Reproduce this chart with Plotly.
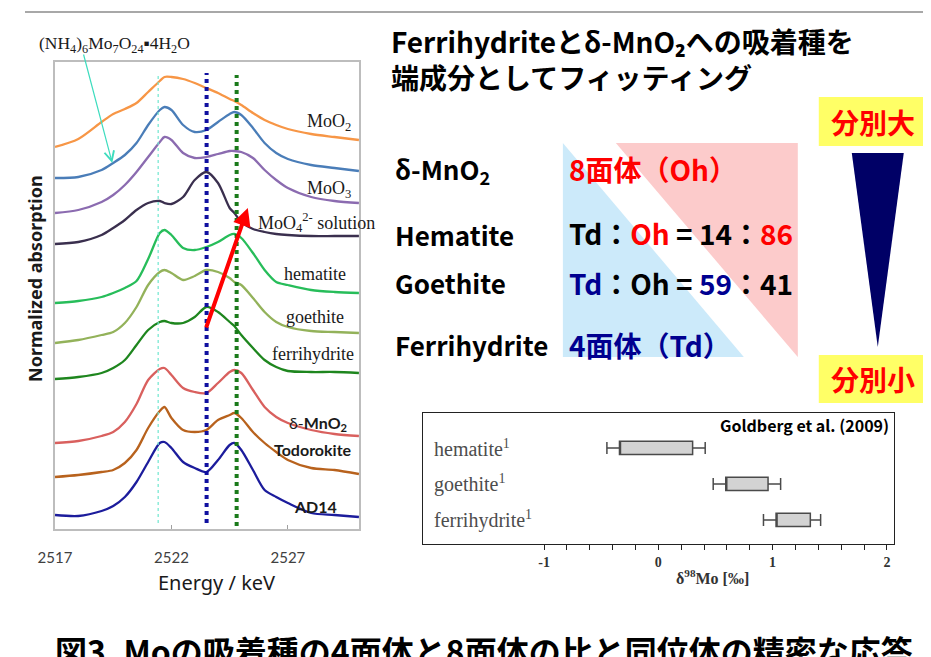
import plotly.graph_objects as go

W, H = 931, 657

# ---------------- XANES spectra (Mo K-edge), offset normalized absorption ----------------
energy = [2517, 2518, 2519, 2519.5, 2520, 2520.5, 2521, 2521.5, 2521.7, 2522, 2522.5, 2523,
          2523.5, 2524, 2524.5, 2524.7, 2525, 2525.5, 2526, 2526.5, 2527, 2528, 2529, 2530.05]

heptamolybdate = [38.2, 39.0, 40.7, 41.5, 42.0, 42.6, 43.7, 44.8, 45.2, 45.2, 45.0, 44.6,
                  44.1, 43.6, 43.0, 42.8, 42.4, 41.6, 40.9, 40.4, 40.0, 39.5, 39.2, 38.9]
moo2 = [35.1, 35.2, 35.9, 36.6, 37.4, 38.6, 40.4, 41.9, 42.2, 41.9, 40.4, 39.7,
        39.9, 40.7, 41.5, 41.7, 41.4, 40.1, 38.6, 37.6, 37.0, 36.4, 36.1, 35.8]
moo3 = [31.6, 31.9, 32.7, 33.4, 34.4, 35.7, 37.2, 38.7, 39.2, 38.9, 37.6, 37.1,
        37.2, 37.5, 37.8, 37.8, 37.7, 37.1, 35.9, 34.9, 34.1, 33.2, 32.8, 32.6]
moo4_solution = [28.5, 28.7, 29.4, 30.1, 30.9, 31.9, 32.6, 32.8, 32.6, 32.5, 33.2, 34.9,
                 35.7, 34.6, 32.1, 31.6, 30.7, 30.0, 29.7, 29.5, 29.4, 29.3, 29.3, 29.3]
hematite = [22.6, 22.8, 23.2, 23.6, 24.1, 24.8, 27.0, 29.6, 29.9, 29.4, 28.1, 27.9,
            28.2, 28.7, 29.4, 29.5, 29.1, 27.6, 25.9, 24.7, 24.4, 23.9, 23.7, 23.6]
goethite = [18.6, 18.9, 19.4, 19.7, 20.6, 22.2, 24.4, 25.7, 25.9, 25.6, 24.9, 25.3,
            25.9, 25.7, 25.1, 24.7, 24.4, 23.1, 21.7, 20.7, 20.2, 19.8, 19.7, 19.6]
ferrihydrite = [15.0, 15.2, 15.6, 16.1, 16.9, 18.4, 19.9, 20.7, 20.8, 20.6, 20.6, 21.2,
                22.2, 21.7, 20.7, 20.3, 19.4, 18.1, 16.9, 16.2, 15.8, 15.7, 15.7, 15.6]
d_mno2 = [8.6, 8.8, 9.3, 9.7, 10.7, 12.5, 14.9, 16.0, 16.1, 15.4, 14.1, 13.7,
          13.6, 14.6, 15.7, 15.9, 15.6, 13.9, 12.2, 11.2, 10.6, 9.9, 9.5, 9.3]
todorokite = [5.2, 5.4, 5.7, 5.9, 6.6, 7.9, 10.1, 11.8, 12.2, 11.1, 9.9, 9.7,
              9.9, 10.9, 11.4, 11.6, 11.1, 9.7, 8.6, 7.7, 6.9, 6.1, 5.9, 5.5]
ad14 = [1.4, 1.3, 1.8, 2.3, 3.2, 4.7, 6.7, 8.6, 8.7, 8.1, 6.7, 6.1,
        5.7, 6.9, 8.4, 8.6, 7.9, 5.9, 3.9, 3.2, 2.6, 1.6, 1.4, 1.2]

xanes_ticks = [2517, 2522, 2527]
ref_energies = [2521.43, 2523.51, 2524.80]
ref_top = [45.6, 45.6, 45.4]
ref_bottom = [0.6, 0.6, 0.3]
shift_arrow_from = [2523.47, 20.0]
shift_arrow_to = [2525.28, 32.1]
hepta_arrow_from = [2518.21, 47.6]
hepta_arrow_to = [2519.46, 36.6]

# ---------------- δ98Mo isotope fractionation (Goldberg et al. 2009) ----------------
iso_minerals = ["hematite", "goethite", "ferrihydrite"]
iso_pos = [3, 2, 1]
iso_q1 = [-0.34, 0.59, 1.03]
iso_q3 = [0.30, 0.96, 1.33]
iso_low = [-0.45, 0.48, 0.92]
iso_high = [0.41, 1.07, 1.42]
iso_tick_labels = ["-1", "0", "1", "2"]

# ---------------- helpers (layout only) ----------------
# the captured page shows the figure shifted/scaled slightly; place items in
# the reference picture's pixel frame and convert to paper coordinates.
RX0, RXS, RY0 = 25.0, 0.982, 8.0

def px(x):
    return ((x - RX0) / RXS) / W

def py(y):
    return 1 - (y - RY0) / H

SERIF = "Liberation Serif, DejaVu Serif, serif"
SANS = "Lato, Noto Sans, sans-serif"
NOTO = "Noto Sans, sans-serif"
JP = "Noto Sans CJK JP, Noto Sans, sans-serif"

fig = go.Figure()

series = [
    (heptamolybdate, "#F79646"),
    (moo2, "#4A7DB8"),
    (moo3, "#8B6BB0"),
    (moo4_solution, "#3A2F4E"),
    (hematite, "#27BD5A"),
    (goethite, "#93B25A"),
    (ferrihydrite, "#1E861E"),
    (d_mno2, "#D9605E"),
    (todorokite, "#B8621D"),
    (ad14, "#1C1C9C"),
]
for vals, col in series:
    fig.add_trace(go.Scatter(x=energy, y=vals, mode="lines",
                             line=dict(color=col, width=2.3, shape="spline", smoothing=0.8),
                             xaxis="x", yaxis="y", showlegend=False, hoverinfo="skip"))

ref_styles = [("#70E6CF", 1.2), ("#1010A0", 4), ("#1A7A1A", 4)]
for e, top, bot, (col, w) in zip(ref_energies, ref_top, ref_bottom, ref_styles):
    fig.add_trace(go.Scatter(x=[e, e], y=[bot, top], mode="lines",
                             line=dict(color=col, width=w, dash="dot"),
                             xaxis="x", yaxis="y", showlegend=False, hoverinfo="skip"))

fig.add_trace(go.Box(y=iso_pos, q1=iso_q1, median=iso_q1, q3=iso_q3,
                     lowerfence=iso_low, upperfence=iso_high, orientation="h",
                     xaxis="x2", yaxis="y2", fillcolor="#D3D3D3",
                     line=dict(color="#4A4A4A", width=1.5), whiskerwidth=0.9,
                     width=0.37, boxpoints=False, showlegend=False, hoverinfo="skip"))

iso_tickvals = [round(-1 + 0.2 * i, 1) for i in range(16)]
iso_ticktext = []
for v in iso_tickvals:
    lab = ""
    for t in iso_tick_labels:
        if abs(float(t) - v) < 1e-9:
            lab = "<b>" + t + "</b>"
    iso_ticktext.append(lab)

shapes = [
    dict(type="line", xref="paper", yref="paper", x0=0, x1=1.0, y0=py(12), y1=py(12),
         line=dict(color="#A8A8A8", width=2)),
    dict(type="path", xref="paper", yref="paper", layer="below",
         path=f"M{px(563)},{py(143)} L{px(563)},{py(357)} L{px(744)},{py(357)} Z",
         fillcolor="#CCEAFA", line=dict(width=0)),
    dict(type="path", xref="paper", yref="paper", layer="below",
         path=f"M{px(616)},{py(143)} L{px(798)},{py(143)} L{px(798)},{py(357)} Z",
         fillcolor="#FCCBCB", line=dict(width=0)),
    dict(type="path", xref="paper", yref="paper",
         path=f"M{px(852)},{py(153)} L{px(904)},{py(153)} L{px(878)},{py(347)} Z",
         fillcolor="#000066", line=dict(width=0)),
    dict(type="rect", xref="paper", yref="paper", x0=px(819), x1=px(927), y0=py(97), y1=py(146),
         fillcolor="#FFFF66", line=dict(width=0)),
    dict(type="rect", xref="paper", yref="paper", x0=px(819), x1=px(927), y0=py(355), y1=py(403),
         fillcolor="#FFFF66", line=dict(width=0)),
]

def ann(text, x, y, size, family, color="#1a1a1a", xanchor="left", **kw):
    d = dict(text=text, x=px(x), y=py(y), xref="paper", yref="paper", showarrow=False,
             xanchor=xanchor, yanchor="middle", font=dict(size=size, family=family, color=color))
    d.update(kw)
    return d

annotations = [
    ann("<b>Normalized absorption</b>", 35, 278, 18, NOTO, xanchor="center", textangle=-90),
    ann("Energy / keV", 217, 582, 20, NOTO, xanchor="center"),
    ann("(NH<sub>4</sub>)<sub>6</sub>Mo<sub>7</sub>O<sub>24</sub>\u25aa4H<sub>2</sub>O", 37, 44, 17.5, SERIF),
    ann("MoO<sub>2</sub>", 353, 123, 18, SERIF, xanchor="right"),
    ann("MoO<sub>3</sub>", 353, 189, 18, SERIF, xanchor="right"),
    ann("MoO<sub>4</sub><sup>2-</sup> solution", 256, 222, 18, SERIF),
    ann("hematite", 348, 274, 18, SERIF, xanchor="right"),
    ann("goethite", 346, 317, 18, SERIF, xanchor="right"),
    ann("ferrihydrite", 356, 354, 18, SERIF, xanchor="right"),
    ann("δ-<b>MnO<sub>2</sub></b>", 349, 423, 16, SANS, xanchor="right"),
    ann("<b>Todorokite</b>", 354, 449, 16, SANS, xanchor="right"),
    ann("<b>AD14</b>", 339, 506, 16, SANS, xanchor="right"),
    # right panel title
    ann("<b>Ferrihydriteとδ-MnO₂への吸着種を</b>", 389, 41, 28, JP, color="#000000"),
    ann("<b>端成分としてフィッティング</b>", 389, 77, 28, JP, color="#000000"),
    # table
    ann("<b>δ-MnO<sub>2</sub></b>", 393, 170, 26, JP, color="#000000"),
    ann("<b>Hematite</b>", 393, 234, 26, JP, color="#000000"),
    ann("<b>Goethite</b>", 393, 283, 26, JP, color="#000000"),
    ann("<b>Ferrihydrite</b>", 393, 344, 26, JP, color="#000000"),
    ann("<b>8面体（Oh）</b>", 567, 169, 28, JP, color="#FF0000"),
    ann("<b>Td：<span style='color:#FF0000'>Oh</span> = 14：<span style='color:#FF0000'>86</span></b>",
        567, 233, 28, JP, color="#000000"),
    ann("<b><span style='color:#000090'>Td</span>：Oh = <span style='color:#000090'>59</span>：41</b>",
        567, 283, 28, JP, color="#000000"),
    ann("<b>4面体（Td）</b>", 567, 345, 28, JP, color="#000090"),
    ann("<b>分別大</b>", 873, 122, 28, JP, color="#FF0000", xanchor="center"),
    ann("<b>分別小</b>", 873, 379, 28, JP, color="#FF0000", xanchor="center"),
    # isotope panel
    ann("<b>Goldberg et al. (2009)</b>", 891, 425, 16, JP, color="#000000", xanchor="right"),
    ann("<b>δ<sup>98</sup>Mo [‰]</b>", 713, 577, 16, SERIF, color="#333333", xanchor="center"),
    # caption
    ann("<b>図3. Moの吸着種の4面体と8面体の比と同位体の精密な応答.</b>", 489, 650, 32, JP,
        color="#000000", xanchor="center"),
]
for name, pos in zip(iso_minerals, iso_pos):
    annotations.append(dict(text=name + "<sup>1</sup>", x=-1.98, y=pos, xref="x2", yref="y2",
                            showarrow=False, xanchor="left", yanchor="middle",
                            font=dict(size=20, family=SERIF, color="#4D4D4D")))

annotations.append(dict(text="", x=shift_arrow_to[0], y=shift_arrow_to[1],
                        ax=shift_arrow_from[0], ay=shift_arrow_from[1],
                        xref="x", yref="y", axref="x", ayref="y", showarrow=True,
                        arrowhead=2, arrowsize=0.9, arrowwidth=4, arrowcolor="#FF0000"))
annotations.append(dict(text="", x=hepta_arrow_to[0], y=hepta_arrow_to[1],
                        ax=hepta_arrow_from[0], ay=hepta_arrow_from[1],
                        xref="x", yref="y", axref="x", ayref="y", showarrow=True,
                        arrowhead=5, arrowsize=1.6, arrowwidth=1.2, arrowcolor="#3DDCBE"))

fig.update_layout(
    width=W, height=H, autosize=False,
    margin=dict(l=0, r=0, t=0, b=0),
    paper_bgcolor="white", plot_bgcolor="white",
    showlegend=False,
    xaxis=dict(domain=[px(55), px(359)], range=[2517, 2530.05], tickvals=xanes_ticks,
               ticks="inside", ticklen=4, tickcolor="#A0A0A0", showline=True, mirror=True,
               linecolor="#BDBDBD", linewidth=1.5, showgrid=False, zeroline=False,
               ticklabelstandoff=14,
               tickfont=dict(size=15, family=SANS, color="#404040")),
    yaxis=dict(domain=[py(529), py(62)], range=[0, 46.7], showticklabels=False, ticks="",
               showline=True, mirror=True, linecolor="#BDBDBD", linewidth=1.5,
               showgrid=False, zeroline=False),
    xaxis2=dict(domain=[px(423), px(894)], range=[-2.06, 2.06], anchor="y2",
                tickmode="array", tickvals=iso_tickvals, ticktext=iso_ticktext,
                ticks="outside", ticklen=5, tickcolor="#222222", tickwidth=1.2,
                showline=True, mirror=True, linecolor="#222222", linewidth=1.3,
                showgrid=False, zeroline=False,
                tickfont=dict(size=14, family=SERIF, color="#333333")),
    yaxis2=dict(domain=[py(544), py(413)], range=[0.33, 3.97], anchor="x2",
                showticklabels=False, ticks="", showline=True, mirror=True,
                linecolor="#222222", linewidth=1.3, showgrid=False, zeroline=False),
    shapes=shapes,
    annotations=annotations,
)

fig.write_html("out.html")
